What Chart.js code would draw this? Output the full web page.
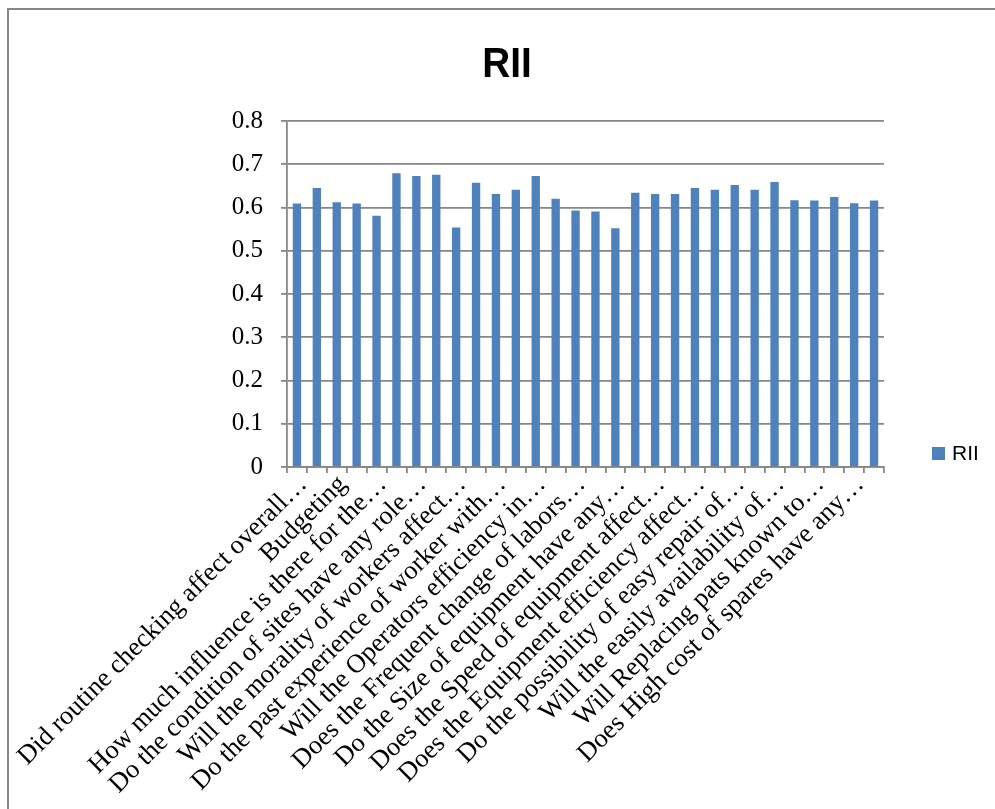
<!DOCTYPE html>
<html lang="en">
<meta charset="utf-8" />
<title>RII</title>
<script src="https://cdn.jsdelivr.net/npm/chart.js@4.4.1"></script>

<style>
*{box-sizing:border-box}
body{margin:0;background:#fff;width:995px;height:809px;overflow:hidden;position:relative}
/* chart frame: only top and left edges fall inside the page */
.frame{position:absolute;left:7px;top:8px;width:1100px;height:900px;border-top:2.5px solid #878787;border-left:2.5px solid #878787}
canvas{position:absolute;left:0;top:0}
h1{position:absolute;left:407px;top:41px;width:200px;margin:0;text-align:center;
  font:bold 43px/43px "Liberation Sans",Arial,sans-serif;color:#000;transform:scaleX(.9)}
.legend{position:absolute;left:932px;top:441px;display:flex;align-items:center;gap:7px;
  font-family:"Liberation Sans",Arial,sans-serif;font-size:21px;color:#000}
.legend i{display:inline-block;width:13px;height:13px;background:#4F81BD}
</style>

<body>
<div class="frame"></div>
<canvas id="chart" width="995" height="809"></canvas>
<h1>RII</h1>
<div class="legend"><i></i><span>RII</span></div>

<script>
// questions on the x axis – Excel printed only every second one, the rest stay blank
const questions = [
  'Did routine checking affect overall…', '',
  'Budgeting', '',
  'How much influence is there for the…', '',
  'Do the condition of sites have any role…', '',
  'Will the morality of workers affect…', '',
  'Do the past experience of worker with…', '',
  'Will the Operators efficiency in…', '',
  'Does the Frequent change of labors…', '',
  'Do the Size of equipment have any…', '',
  'Does the Speed of equipment affect…', '',
  'Does the Equipment efficiency affect…', '',
  'Do the possibility of easy repair of…', '',
  'Will the easily availability of…', '',
  'Will Replacing pats known to…', '',
  'Does High cost of spares have any…', ''
];

// relative importance index per question
const rii = [
  0.609, 0.645, 0.612, 0.609, 0.581, 0.679, 0.673, 0.676, 0.554, 0.657,
  0.631, 0.641, 0.673, 0.620, 0.593, 0.591, 0.552, 0.634, 0.631, 0.631,
  0.645, 0.641, 0.652, 0.641, 0.659, 0.617, 0.616, 0.624, 0.610, 0.616
];

const yMin = 0, yMax = 0.8, yStep = 0.1;

const GRID = '#868686';
const SERIF = '"Liberation Serif","Times New Roman",serif';

const ctx = document.getElementById('chart').getContext('2d');

new Chart(ctx, {
  type: 'bar',
  data: {
    labels: questions,
    datasets: [{
      label: 'RII',
      data: rii,
      backgroundColor: '#4F81BD',
      categoryPercentage: 1,
      barPercentage: 0.42
    }]
  },
  options: {
    responsive: false,
    animation: false,
    layout: { padding: { left: 0, right: 111, top: 121, bottom: 0 } },
    plugins: {
      legend: { display: false },
      tooltip: { enabled: false },
      title: { display: false }
    },
    scales: {
      x: {
        grid: { drawOnChartArea: false, drawTicks: true, tickLength: 6, color: GRID, lineWidth: 1.8 },
        border: { color: GRID, width: 1.8 },
        ticks: {
          autoSkip: false, minRotation: 45, maxRotation: 45,
          padding: -4, labelOffset: 6,
          color: '#000', font: { family: SERIF, size: 26.5 }
        },
        // pin the axis band so the plot keeps its place
        afterFit(scale) {
          scale.height = 342;
          scale.paddingLeft = 0;
          scale.paddingRight = 0;
        }
      },
      y: {
        min: yMin, max: yMax,
        grid: { color: GRID, lineWidth: 1.8, tickLength: 6 },
        border: { color: GRID, width: 1.8 },
        ticks: {
          stepSize: yStep, padding: 18,
          color: '#000', font: { family: SERIF, size: 25 }
        },
        afterFit(scale) {
          scale.width = 287;
          scale.paddingTop = 0;
          scale.paddingBottom = 0;
        }
      }
    }
  }
});
</script>
</body>
</html>
